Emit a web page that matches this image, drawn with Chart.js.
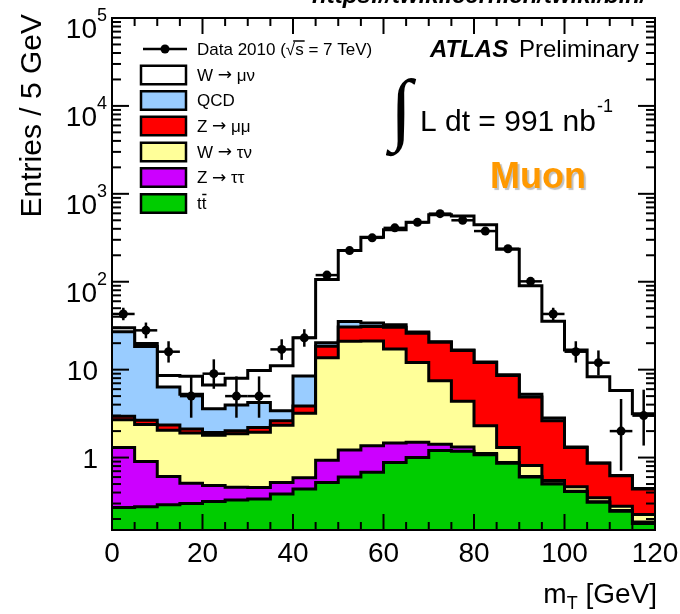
<!DOCTYPE html>
<html>
<head>
<meta charset="utf-8">
<script src="https://cdn.jsdelivr.net/npm/chart.js@4.4.0/dist/chart.umd.min.js"></script>
<style>
  html, body { margin: 0; padding: 0; background: #fff; }
  #wrap { width: 680px; height: 614px; position: relative; }
</style>
</head>
<body>
<div id="wrap"><canvas id="c"></canvas></div>
<script>
// Transverse mass, 5 GeV bins from 0 to 120 GeV
const binCentres = [2.5, 7.5, 12.5, 17.5, 22.5, 27.5, 32.5, 37.5, 42.5, 47.5, 52.5, 57.5,
                    62.5, 67.5, 72.5, 77.5, 82.5, 87.5, 92.5, 97.5, 102.5, 107.5, 112.5, 117.5];
const BIN_WIDTH = 5;

// Expected entries per bin for each process (stacked bottom to top in this order)
const ttbar   = [0.27, 0.275, 0.29, 0.30, 0.316, 0.33, 0.337, 0.384, 0.44, 0.52, 0.60, 0.68,
                 0.88, 1.0, 1.2, 1.18, 1.08, 0.86, 0.60, 0.50, 0.41, 0.31, 0.245, 0.178];
const zTauTau = [1.03, 0.625, 0.32, 0.21, 0.164, 0.13, 0.12, 0.136, 0.15, 0.41, 0.62, 0.68,
                 0.58, 0.49, 0.22, 0.14, 0.03, 0.02, 0.01, 0.005, 0.005, 0.005, 0.005, 0.007];
const wTauNu  = [1.40, 1.48, 1.44, 1.39, 1.32, 1.40, 1.49, 1.81, 2.61, 12.77, 19.78, 19.84,
                 15.74, 10.61, 6.08, 3.04, 1.19, 0.42, 0.20, 0.045, 0.05, 0.035, 0.03, 0.04];
const zMuMu   = [0.25, 0.28, 0.30, 0.21, 0.13, 0.16, 0.25, 0.30, 0.65, 4.8, 9.6, 9.8,
                 13.2, 13.9, 13.0, 12.14, 9.8, 7.3, 4.09, 2.08, 0.835, 0.51, 0.34, 0.215];
const qcd     = [24.05, 15.64, 4.0, 3.14, 1.67, 1.93, 2.04, 0.77, 4.6, 1.7, 4.8, 3.0,
                 2.1, 0.8, 0.3, 0.2, 0.15, 0.15, 0.35, 0.19, 0.02, 0.01, 0.005, 0.005];
const wMuNu   = [3.0, 1.5, 2.25, 3.15, 3.1, 4.05, 5.56, 7.7, 14.55, 85.8, 190.6, 286,
                 357.5, 448, 556.2, 541.3, 431.75, 226, 84.75, 32.68, 15.38, 7.43, 5.175, 2.705];

// Observed events with asymmetric Poisson uncertainties
const dataCounts  = [43, 28, 16, 5, 9, 5, 5, 17, 23, 119, 226, 316,
                     410, 474, 595, 500, 377, 237, 101, 43, 16, 12, 2, 3];
const dataErrLow  = [6.53, 5.26, 3.96, 2.16, 2.94, 2.16, 2.16, 4.08, 4.77, 10.9, 15.0, 17.8,
                     20.2, 21.8, 24.4, 22.4, 19.4, 15.4, 10.0, 6.53, 3.96, 3.41, 1.29, 1.63];
const dataErrHigh = [7.6, 6.34, 5.04, 3.38, 4.11, 3.38, 3.38, 5.16, 5.83, 11.9, 16.0, 18.8,
                     21.3, 22.8, 25.4, 23.4, 20.4, 16.4, 11.1, 7.6, 5.04, 4.54, 2.64, 2.92];

// Axis ticks
const xTickValues = [0, 20, 40, 60, 80, 100, 120];
const yTickExponents = [0, 1, 2, 3, 4, 5];

// Legend text is split around the arrow so the arrow can use a wider glyph
const processes = [
  { name: ['tt', '', ''],               values: ttbar,   color: '#00cc00' },
  { name: ['Z', '\u2192', '\u03c4\u03c4'], values: zTauTau, color: '#cc00ff' },
  { name: ['W', '\u2192', '\u03c4\u03bd'], values: wTauNu,  color: '#ffff99' },
  { name: ['Z', '\u2192', '\u03bc\u03bc'], values: zMuMu,   color: '#ff0000' },
  { name: ['QCD', '', ''],              values: qcd,     color: '#99ccff' },
  { name: ['W', '\u2192', '\u03bc\u03bd'], values: wMuNu,   color: '#ffffff' }
];

// Running sums so each layer is drawn from the axis up to its cumulative total
const cumulative = [];
processes.forEach((p, k) => {
  cumulative.push(p.values.map((v, i) => v + (k ? cumulative[k - 1][i] : 0)));
});

function stepPoints(values) {
  const pts = values.map((v, i) => ({ x: binCentres[i] - BIN_WIDTH / 2, y: v }));
  const last = values.length - 1;
  pts.push({ x: binCentres[last] + BIN_WIDTH / 2, y: values[last] });
  return pts;
}

const datasets = [{
  label: 'Data 2010',
  data: binCentres.map((x, i) => ({ x: x, y: dataCounts[i] })),
  showLine: false,
  pointRadius: 4.5,
  pointHoverRadius: 4.5,
  pointBackgroundColor: '#000',
  pointBorderWidth: 0,
  order: 0
}];
processes.forEach((p, k) => {
  datasets.push({
    label: p.name.join(' '),
    data: stepPoints(cumulative[k]),
    stepped: true,
    fill: 'start',
    backgroundColor: p.color,
    borderColor: '#000',
    borderWidth: 3,
    borderJoinStyle: 'miter',
    pointRadius: 0,
    pointHoverRadius: 0,
    order: k + 1
  });
});

const FONT = '"Liberation Sans", Arial, Helvetica, sans-serif';

function line(ctx, x1, y1, x2, y2) {
  ctx.beginPath(); ctx.moveTo(x1, y1); ctx.lineTo(x2, y2); ctx.stroke();
}

// Vertical and horizontal error bars on the data points
const errorBars = {
  id: 'errorBars',
  afterDatasetsDraw(chart) {
    const ctx = chart.ctx, xs = chart.scales.x, ys = chart.scales.y;
    ctx.save();
    ctx.strokeStyle = '#000';
    ctx.lineWidth = 2.5;
    binCentres.forEach((x, i) => {
      const px = xs.getPixelForValue(x);
      const py = ys.getPixelForValue(dataCounts[i]);
      line(ctx, px, ys.getPixelForValue(dataCounts[i] + dataErrHigh[i]),
                px, ys.getPixelForValue(dataCounts[i] - dataErrLow[i]));
      line(ctx, xs.getPixelForValue(x - BIN_WIDTH / 2), py,
                xs.getPixelForValue(x + BIN_WIDTH / 2), py);
    });
    ctx.restore();
  }
};

// Frame, inward ticks, tick labels, axis titles and annotations
const decorations = {
  id: 'decorations',
  afterDraw(chart) {
    const ctx = chart.ctx, xs = chart.scales.x, ys = chart.scales.y;
    const { left, right, top, bottom } = chart.chartArea;
    ctx.save();
    ctx.strokeStyle = '#000';
    ctx.fillStyle = '#000';
    ctx.lineWidth = 2;

    // x ticks: major every 20 GeV, minor every 5 GeV
    for (let v = 0; v <= 120; v += 5) {
      const px = xs.getPixelForValue(v);
      const len = v % 20 === 0 ? 16 : 8;
      line(ctx, px, bottom, px, bottom - len);
      line(ctx, px, top, px, top + len);
    }
    // y ticks: decades and 2..9 subdivisions
    for (let d = -1; d <= 5; d++) {
      for (let m = 1; m <= 9; m++) {
        const v = m * Math.pow(10, d);
        if (v < ys.min - 1e-9 || v > ys.max + 1e-9) continue;
        const py = ys.getPixelForValue(v);
        const len = m === 1 ? 17 : 9;
        line(ctx, left, py, left + len, py);
        line(ctx, right, py, right - len, py);
      }
    }
    ctx.strokeRect(left, top, right - left, bottom - top);

    // x tick labels
    ctx.font = '28px ' + FONT;
    ctx.textAlign = 'center';
    ctx.textBaseline = 'alphabetic';
    xTickValues.forEach(v => ctx.fillText(String(v), xs.getPixelForValue(v), bottom + 32));

    // y tick labels with superscript exponents
    yTickExponents.forEach(e => {
      const py = ys.getPixelForValue(Math.pow(10, e));
      ctx.textAlign = 'right';
      if (e <= 1) {
        ctx.font = '28px ' + FONT;
        ctx.fillText(e === 0 ? '1' : '10', 98, py + 10);
      } else {
        ctx.font = '28px ' + FONT;
        ctx.fillText('10', 97, py + 20);
        ctx.font = '18px ' + FONT;
        ctx.textAlign = 'left';
        ctx.fillText(String(e), 97, py + 3);
      }
    });

    // y axis title
    ctx.save();
    ctx.translate(41, 14);
    ctx.rotate(-Math.PI / 2);
    ctx.font = '30px ' + FONT;
    ctx.textAlign = 'right';
    ctx.fillText('Entries / 5 GeV', 0, 0);
    ctx.restore();

    // x axis title: m_T [GeV]
    ctx.font = '28px ' + FONT;
    ctx.textAlign = 'left';
    const rest = ' [GeV]';
    const wRest = ctx.measureText(rest).width;
    const wM = ctx.measureText('m').width;
    ctx.font = '18px ' + FONT;
    const wT = ctx.measureText('T').width;
    const xEnd = right + 2;
    const xStart = xEnd - wRest - wT - wM;
    ctx.font = '28px ' + FONT;
    ctx.fillText('m', xStart, 603);
    ctx.fillText(rest, xStart + wM + wT, 603);
    ctx.font = '18px ' + FONT;
    ctx.fillText('T', xStart + wM, 609);

    // ATLAS Preliminary
    ctx.font = 'italic bold 24px ' + FONT;
    ctx.fillText('ATLAS', 430, 57);
    ctx.font = '24px ' + FONT;
    ctx.fillText('Preliminary', 519, 57);

    // Integrated luminosity
    ctx.font = '80px "Liberation Serif"';
    ctx.fillText('\u222b', 390, 135);
    ctx.font = '30px ' + FONT;
    ctx.fillText('L dt = 991 nb', 420, 131);
    ctx.font = '18px ' + FONT;
    ctx.fillText('-1', 597, 112);

    // Channel label
    ctx.save();
    ctx.font = 'bold 36px ' + FONT;
    ctx.fillStyle = '#ff9900';
    ctx.shadowColor = 'rgba(0,0,0,0.25)';
    ctx.shadowOffsetX = 2;
    ctx.shadowOffsetY = 2;
    ctx.shadowBlur = 1;
    ctx.fillText('Muon', 490, 188);
    ctx.restore();

    // Source line at the top edge
    ctx.font = 'italic bold 24px ' + FONT;
    ctx.fillText('https://twiki.cern.ch/twiki/bin/', 312, 3);

    // Legend
    const boxX = 141, boxW = 45, boxH = 18.5, textX = 197;
    ctx.font = '17px ' + FONT;
    ctx.textBaseline = 'middle';
    ctx.lineWidth = 2.5;
    // data entry
    const rowData = 49;
    line(ctx, 143, rowData, 187, rowData);
    ctx.beginPath(); ctx.arc(165, rowData, 4.5, 0, Math.PI * 2); ctx.fill();
    const dataLabelA = 'Data 2010 (\u221a';
    ctx.fillText(dataLabelA, textX, rowData + 1);
    const wA = ctx.measureText(dataLabelA).width;
    ctx.fillText('s = 7 TeV)', textX + wA, rowData + 1);
    ctx.lineWidth = 1.5;
    line(ctx, textX + wA - 2, rowData - 8, textX + wA + ctx.measureText('s').width + 1, rowData - 8);
    ctx.lineWidth = 2.5;
    // process entries, top of stack first
    const rows = [75, 100.5, 126, 152, 177.5, 203.5];
    const legendOrder = processes.slice().reverse();
    legendOrder.forEach((p, r) => {
      const cy = rows[r];
      ctx.fillStyle = p.color;
      ctx.fillRect(boxX, cy - boxH / 2, boxW, boxH);
      ctx.strokeStyle = '#000';
      ctx.strokeRect(boxX, cy - boxH / 2, boxW, boxH);
      ctx.fillStyle = '#000';
      const [head, arrow, tail] = p.name;
      ctx.font = '17px ' + FONT;
      ctx.fillText(head, textX, cy + 1);
      let x = textX + ctx.measureText(head + ' ').width;
      if (arrow) {
        ctx.font = '17px "DejaVu Sans"';
        ctx.fillText(arrow, x, cy + 1);
        x += ctx.measureText(arrow).width;
        ctx.font = '17px ' + FONT;
        x += ctx.measureText(' ').width;
        ctx.fillText(tail, x, cy + 1);
      }
      if (head === 'tt') {
        const wt = ctx.measureText('t').width;
        ctx.lineWidth = 1.5;
        line(ctx, textX + wt + 0.5, cy - 9, textX + 2 * wt, cy - 9);
        ctx.lineWidth = 2.5;
      }
    });
    ctx.restore();
  }
};

new Chart(document.getElementById('c'), {
  type: 'line',
  data: { datasets: datasets },
  options: {
    animation: false,
    responsive: true,
    maintainAspectRatio: false,
    devicePixelRatio: 1,
    layout: { padding: { left: 112, right: 25, top: 18, bottom: 84 } },
    plugins: { legend: { display: false }, tooltip: { enabled: false } },
    events: [],
    scales: {
      x: { type: 'linear', min: 0, max: 120, display: false },
      y: { type: 'logarithmic', min: 0.15, max: 100000, display: false }
    }
  },
  plugins: [errorBars, decorations]
});
</script>
</body>
</html>
